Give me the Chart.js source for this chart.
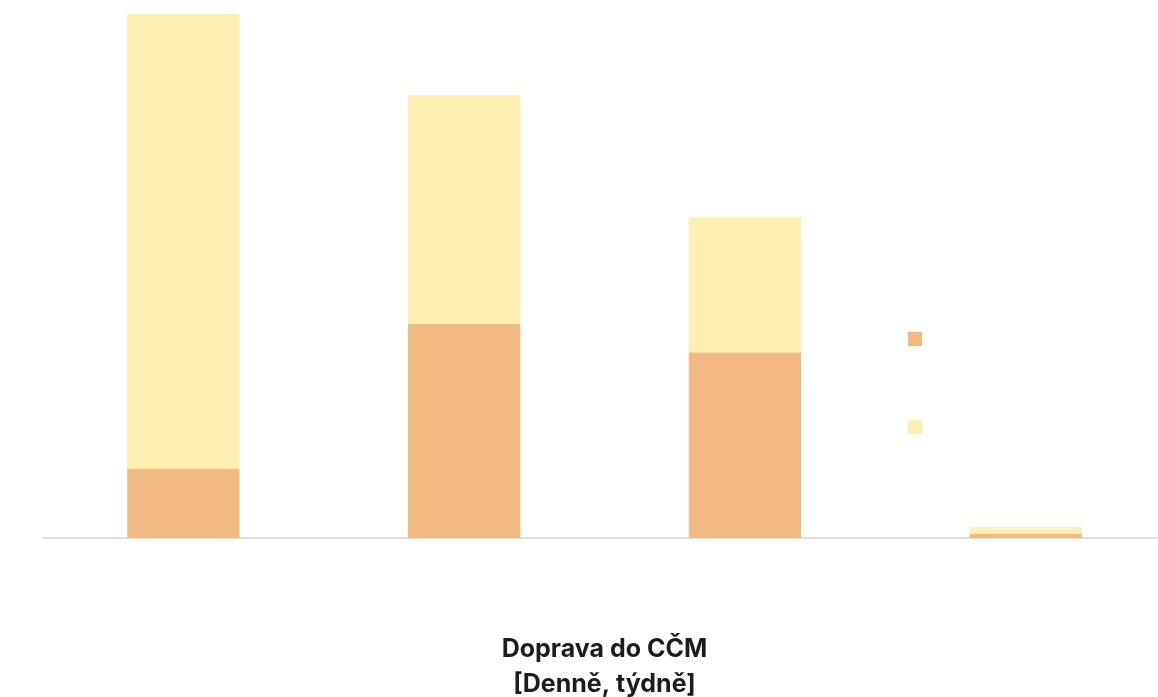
<!DOCTYPE html>
<html>
<head>
<meta charset="utf-8">
<script src="https://cdn.jsdelivr.net/npm/chart.js@4"></script>
<style>
  html, body { margin: 0; padding: 0; background: #fff; overflow: hidden; }
  #wrap { position: absolute; left: 0; top: 0; }
</style>
</head>
<body>
<div id="wrap"><canvas id="myChart" width="1166" height="702"></canvas></div>
<script>
  // data
  const categories = ['A', 'B', 'C', 'D'];
  const dailyValues = [13.2, 40.9, 35.4, 0.8];
  const weeklyValues = [86.8, 43.6, 25.8, 1.3];
  const seriesLabels = ['', ''];
  const axisTitle = ['Doprava do CČM', '[Denně, týdně]'];

  const data = {
    labels: categories,
    datasets: [{
      label: seriesLabels[0],
      data: dailyValues,
      backgroundColor: '#F0BA82'
    }, {
      label: seriesLabels[1],
      data: weeklyValues,
      backgroundColor: '#FEF0B3'
    }]
  };

  // legend boxes block (overlaid, labels are empty)
  const boxLegend = {
    id: 'boxLegend',
    afterDraw(chart) {
      const { ctx } = chart;
      ctx.save();
      chart.data.datasets.forEach((ds, i) => {
        ctx.fillStyle = ds.backgroundColor;
        ctx.fillRect(908, 332 + i * 88, 14, 14);
      });
      ctx.restore();
    }
  };

  // config
  const config = {
    type: 'bar',
    data,
    options: {
      responsive: false,
      animation: false,
      layout: { padding: { left: 43, right: 0, top: 14, bottom: 0 } },
      categoryPercentage: 1,
      barPercentage: 0.4,
      plugins: {
        legend: { display: false },
        tooltip: { enabled: false }
      },
      scales: {
        x: {
          stacked: true,
          grid: { display: false },
          border: { display: true, color: '#e0e0e0', width: 2 },
          ticks: { display: false },
          title: {
            display: true,
            text: axisTitle,
            color: '#1c1c1c',
            font: { family: 'Inter', size: 25, weight: 'bold', lineHeight: '35px' },
            padding: { top: 86, bottom: 0 }
          }
        },
        y: {
          stacked: true,
          display: false,
          min: 0,
          max: 100
        }
      }
    },
    plugins: [boxLegend]
  };

  // render init block
  const myChart = new Chart(document.getElementById('myChart'), config);
</script>
</body>
</html>
